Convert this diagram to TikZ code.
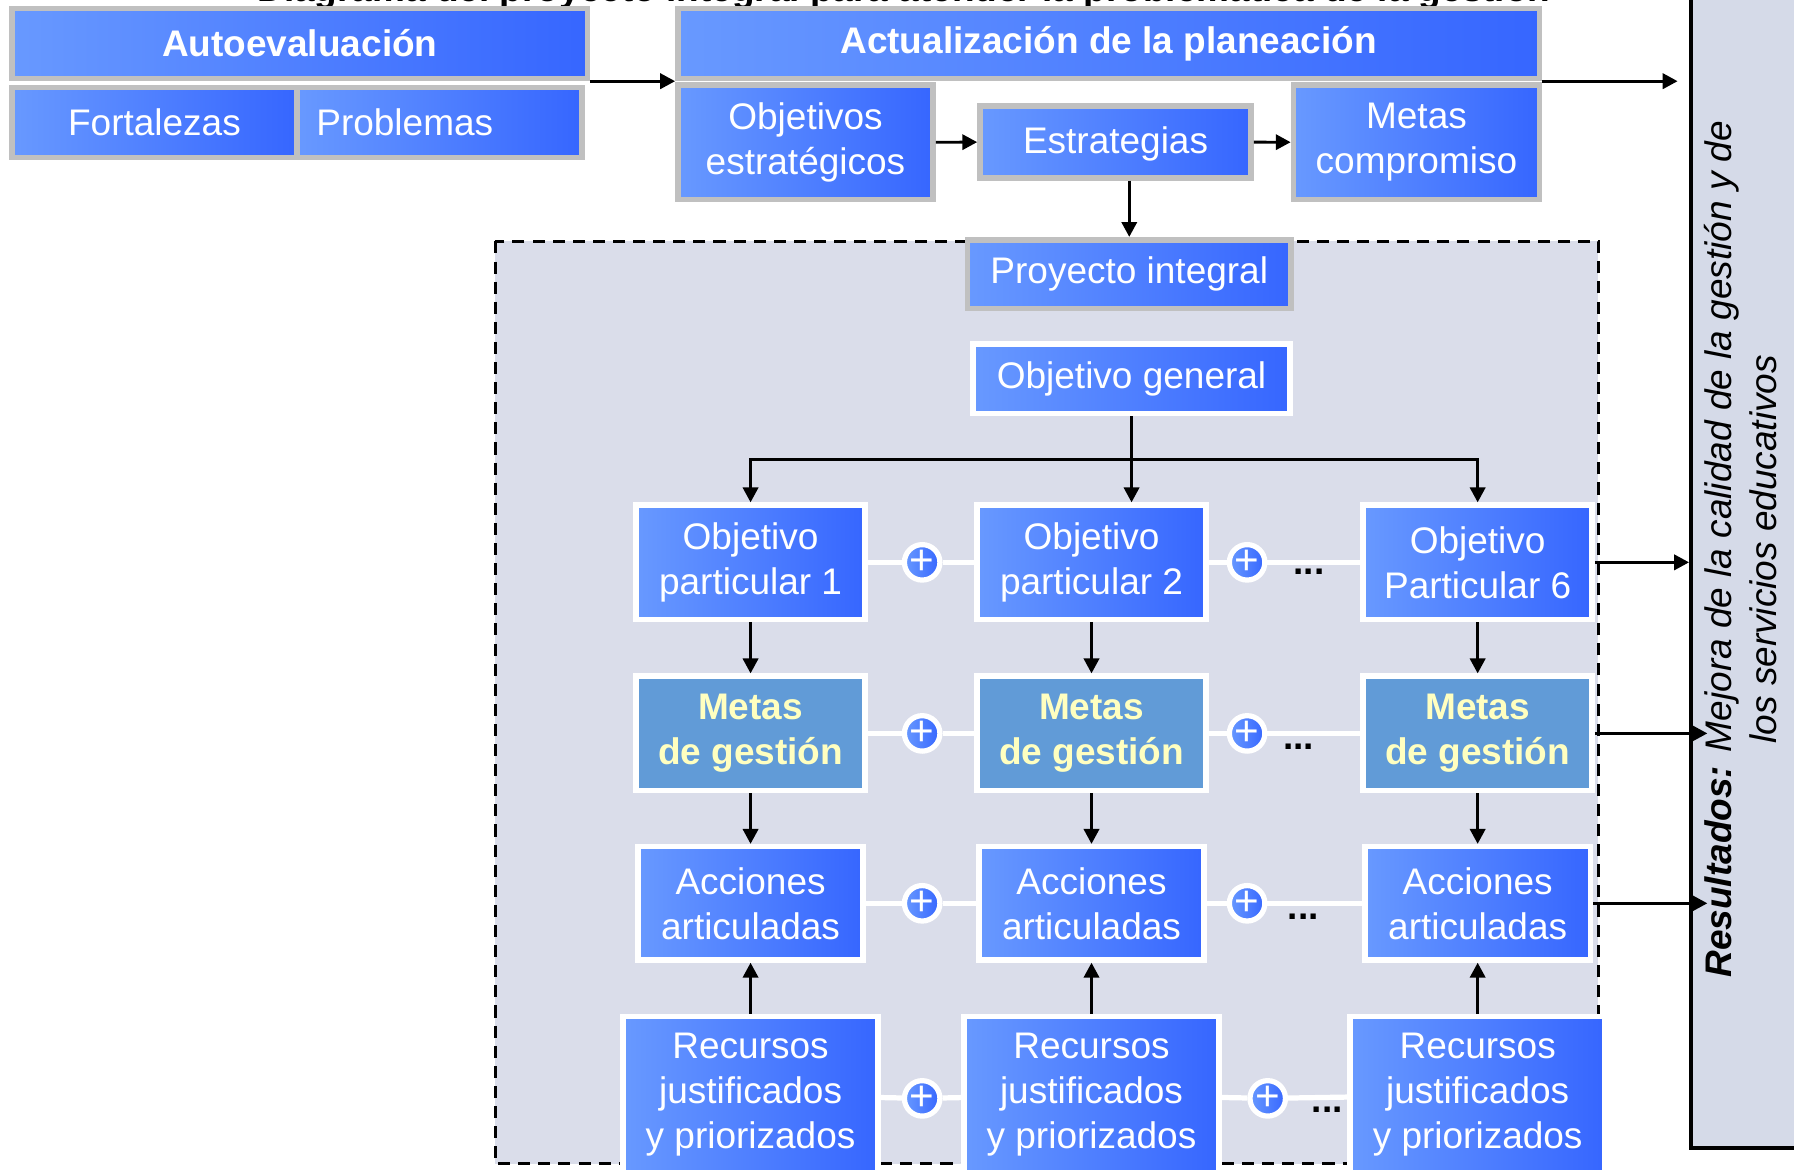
\documentclass[tikz,border=0pt]{standalone}
\usepackage{fontspec}
\setmainfont{Liberation Sans}
\usetikzlibrary{positioning}
\usetikzlibrary{arrows.meta}

\definecolor{boxL}{RGB}{104,153,255}
\definecolor{boxR}{RGB}{54,102,255}
\definecolor{frameGray}{RGB}{192,192,192}
\definecolor{metaFill}{RGB}{97,155,215}
\definecolor{metaText}{RGB}{255,255,192}
\definecolor{zoneFill}{RGB}{218,221,234}
\definecolor{resFill}{RGB}{213,218,232}

\newcommand{\diafont}{\fontsize{9.2}{11.2}\selectfont}

\tikzset{
  boxbase/.style={rectangle, draw=white, line width=1.4pt, text=white,
    align=center, font=\diafont, inner sep=0pt},
  bluebox/.style={boxbase, left color=boxL, right color=boxR},
  graybox/.style={bluebox, draw=frameGray},
  hdrbox/.style={graybox, font=\diafont\bfseries},
  metabox/.style={boxbase, fill=metaFill, text=metaText, font=\diafont\bfseries},
  plusnode/.style={circle, draw=white, line width=1.3pt, left color=boxL,
    right color=boxR, text=white, minimum size=0.31cm, inner sep=0pt,
    font=\fontsize{10.5}{10.5}\selectfont},
  plink/.style={white, line width=1.3pt},
  moredots/.style={font=\diafont\bfseries, inner sep=0pt},
  arr/.style={-{Triangle[length=3.7pt,width=3.8pt]}, line width=0.7pt},
  zone/.style={fill=zoneFill, draw=black, line width=0.75pt, dash pattern=on 3pt off 2pt},
  panel/.style={rectangle, fill=resFill, draw=black, line width=1pt,
    minimum width=1.32cm, minimum height=10.33cm}
}

\begin{document}
\begin{tikzpicture}
  \useasboundingbox (0,0) rectangle (15.68,-10.22);
  \clip (0,0) rectangle (15.68,-10.22);

  % fondo
  \draw[zone] (4.33,-2.11) rectangle (13.97,-10.17);
  \node[panel] (res) at (15.44,-4.865) {};
  \node[font=\diafont\itshape, align=center, rotate=90] (restxt) at (15.21,-4.80)
    {\textbf{Resultados:} Mejora de la calidad de la gestión y de\\los servicios educativos};

  \node[font=\diafont\bfseries, anchor=base] (title) at (7.90,-0.01)
    {Diagrama del proyecto integral para atender la problemática de la gestión};

  % autoevaluacion
  \node[hdrbox, minimum width=5.03cm, minimum height=0.61cm] (auto) at (2.62,-0.38) {Autoevaluación};
  \node[graybox, minimum width=2.49cm, minimum height=0.61cm] (fort) at (1.35,-1.07) {Fortalezas};
  \node[graybox, minimum height=0.61cm, text width=2.15cm, align=left, inner xsep=0.17cm,
    right=-1.4pt of fort] (prob) {Problemas};

  % planeacion
  \node[hdrbox, minimum width=7.53cm, minimum height=0.61cm] (act) at (9.69,-0.38) {Actualización de la planeación};
  \node[graybox, minimum width=2.23cm, minimum height=1.0cm] (obe) at (7.04,-1.245) {Objetivos\\estratégicos};
  \node[graybox, minimum width=2.37cm, minimum height=0.63cm, text depth=0.03cm] (est) at (9.75,-1.24) {Estrategias};
  \node[graybox, minimum width=2.15cm, minimum height=1.0cm] (met) at (12.38,-1.245) {Metas\\compromiso};

  \node[graybox, minimum width=2.83cm, minimum height=0.60cm] (proy) at (9.87,-2.395) {Proyecto integral};
  \node[bluebox, minimum width=2.77cm, minimum height=0.61cm] (ogen) at (9.89,-3.31) {Objetivo general};

  % columnas
  \foreach \i/\x/\t in {1/6.56/particular 1, 2/9.54/particular 2, 3/12.915/Particular 6}{
    \node[bluebox, minimum width=2.0cm, minimum height=1.0cm] (op\i) at (\x,-4.915) {Objetivo\\\t};
    \node[metabox, minimum width=2.0cm, minimum height=1.0cm] (mg\i) at (\x,-6.41) {Metas\\de gestión};
    \node[bluebox, minimum width=1.97cm, minimum height=0.99cm] (aa\i) at (\x,-7.895) {Acciones\\articuladas};
    \node[bluebox, minimum width=2.23cm, minimum height=1.37cm] (rj\i) at (\x,-9.57) {Recursos\\justificados\\y priorizados};
    \draw[arr] (op\i) -- (mg\i);
    \draw[arr] (mg\i) -- (aa\i);
    \draw[arr] (rj\i) -- (aa\i);
  }

  % sumas
  \foreach \r/\y/\xb/\xd/\yd in {op/-4.915/10.90/11.44/-5.00, mg/-6.41/10.90/11.35/-6.53,
      aa/-7.895/10.90/11.39/-8.01, rj/-9.60/11.08/11.60/-9.70}{
    \node[plusnode] (\r-a) at (8.06,\y) {+};
    \node[plusnode] (\r-b) at (\xb,\y) {+};
    \node[moredots] (\r-dots) at (\xd,\yd) {...};
    \draw[plink] (\r1) -- (\r-a) -- (\r2) -- (\r-b) -- (\r3);
  }

  % flechas
  \draw[arr] (auto.south east) -- (act.south west);
  \draw[arr] (obe) -- (est);
  \draw[arr] (est) -- (met);
  \draw[arr] (est.south -| proy.north) -- (proy.north);
  \draw[arr] (ogen.south) -- (ogen.south |- op2.north);
  \draw[arr] (ogen.south) -- ++(0,-0.38) -| (op1.north);
  \draw[arr] (ogen.south) -- ++(0,-0.38) -| (op3.north);

  \draw[arr] (act.south east) -- ([xshift=-1mm]res.west |- act.south east);
  \draw[arr] (op3.east) -- (res.west |- op3.east);
  \draw[arr] (mg3.east) -- ([xshift=1.6mm]res.west |- mg3.east);
  \draw[arr] (aa3.east) -- ([xshift=1.6mm]res.west |- aa3.east);
\end{tikzpicture}
\end{document}
